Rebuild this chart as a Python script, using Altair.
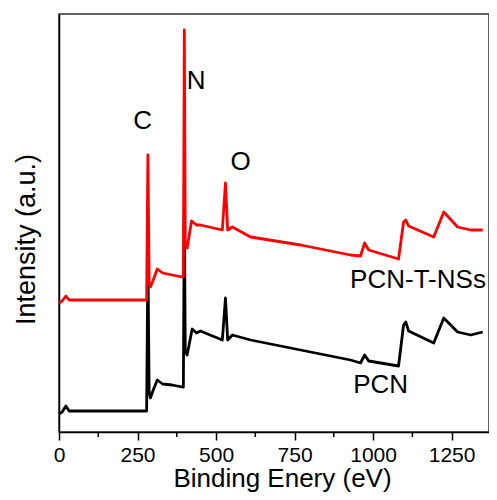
import altair as alt
import pandas as pd

# Binding energy (eV) and intensity (arbitrary units)
pcn_ev = [0, 10, 22, 32, 100, 200, 279, 283, 287, 291, 300, 313, 330, 360, 393,
          396, 399, 402, 408, 424, 438, 450, 520, 530, 537, 552, 610, 769, 928,
          960, 973, 986, 1081, 1097, 1104, 1113, 1193, 1225, 1269, 1311, 1349]
pcn_int = [18, 20, 26, 21, 21, 21, 21, 175, 40, 34, 42, 52, 48, 47, 45,
           45, 230, 80, 77, 103, 99, 101, 92, 134, 92, 97, 92, 82, 72,
           69, 77, 71, 66, 107, 110, 101, 89, 114, 100, 97, 100]

nss_ev = [0, 10, 22, 32, 100, 200, 279, 283, 287, 291, 300, 313, 330, 360, 393,
          396, 399, 402, 408, 422, 438, 450, 520, 530, 537, 552, 610, 769, 928,
          960, 973, 986, 1081, 1097, 1104, 1113, 1193, 1225, 1269, 1311, 1349]
nss_int = [129, 131, 136, 132, 132, 132, 132, 277, 150, 145, 152, 163, 159, 157, 155,
           155, 402, 190, 184, 211, 207, 207, 202, 249, 202, 205, 195, 187, 177,
           176, 189, 182, 173, 210, 212, 206, 195, 220, 205, 202, 202]

x_major = [0, 250, 500, 750, 1000, 1250]
x_minor = [125, 375, 625, 875, 1125]

ann_text = ["C", "N", "O", "PCN-T-NSs", "PCN"]
ann_ev = [266, 437, 578, 1143, 1024]
ann_int = [311, 351, 270, 152, 47]

FONT = "Liberation Sans, Arial, Helvetica, sans-serif"
W, H = 430, 418

pcn = pd.DataFrame({"eV": pcn_ev, "I": pcn_int})
nss = pd.DataFrame({"eV": nss_ev, "I": nss_int})
minor = pd.DataFrame({"eV": x_minor})
ann = pd.DataFrame({"eV": ann_ev, "I": ann_int, "t": ann_text})

xscale = alt.Scale(domain=[0, 1369], nice=False, zero=False)
yscale = alt.Scale(domain=[0, 418], nice=False, zero=False)

xaxis = alt.Axis(
    title="Binding Enery (eV)", values=x_major, grid=False, format="d",
    domainColor="black", domainWidth=1.5, tickColor="black", tickWidth=1.5,
    tickSize=8, labelFontSize=21, labelColor="black", labelFont=FONT,
    labelPadding=4, titleFont=FONT, titleFontSize=26, titleFontWeight="normal",
    titleColor="black", titleBaseline="alphabetic", titleX=223, titleY=54,
    labelFlush=False,
)
yaxis = alt.Axis(
    title="Intensity (a.u.)", labels=False, ticks=False, grid=False,
    domainColor="black", domainWidth=1.5, titleFont=FONT, titleFontSize=27,
    titleFontWeight="normal", titleColor="black", titleX=-19, titleY=225,
)

xenc = alt.X("eV:Q", scale=xscale, axis=xaxis)
yenc = alt.Y("I:Q", scale=yscale, axis=yaxis)

black = alt.Chart(pcn).mark_line(color="black", strokeWidth=2.8, strokeJoin="round").encode(
    x=xenc, y=yenc)
red = alt.Chart(nss).mark_line(color="#ff0000", strokeWidth=2.8, strokeJoin="round").encode(
    x=xenc, y=yenc)
minor_ticks = alt.Chart(minor).mark_rule(color="black", strokeWidth=1.5).encode(
    x=xenc, y=alt.value(H), y2=alt.value(H + 5))
labels = alt.Chart(ann).mark_text(
    font=FONT, fontSize=26, color="black", align="center", baseline="middle"
).encode(x=xenc, y=yenc, text="t:N")

chart = alt.layer(black, red, minor_ticks, labels).properties(
    width=W, height=H,
    autosize=alt.AutoSizeParams(type="none"),
    padding={"left": 51, "top": 6, "right": 0, "bottom": 60},
    background="white",
).configure_view(stroke="#333333", strokeWidth=1.5)

chart.save("out.html", embed_options={"renderer": "svg", "actions": False})
